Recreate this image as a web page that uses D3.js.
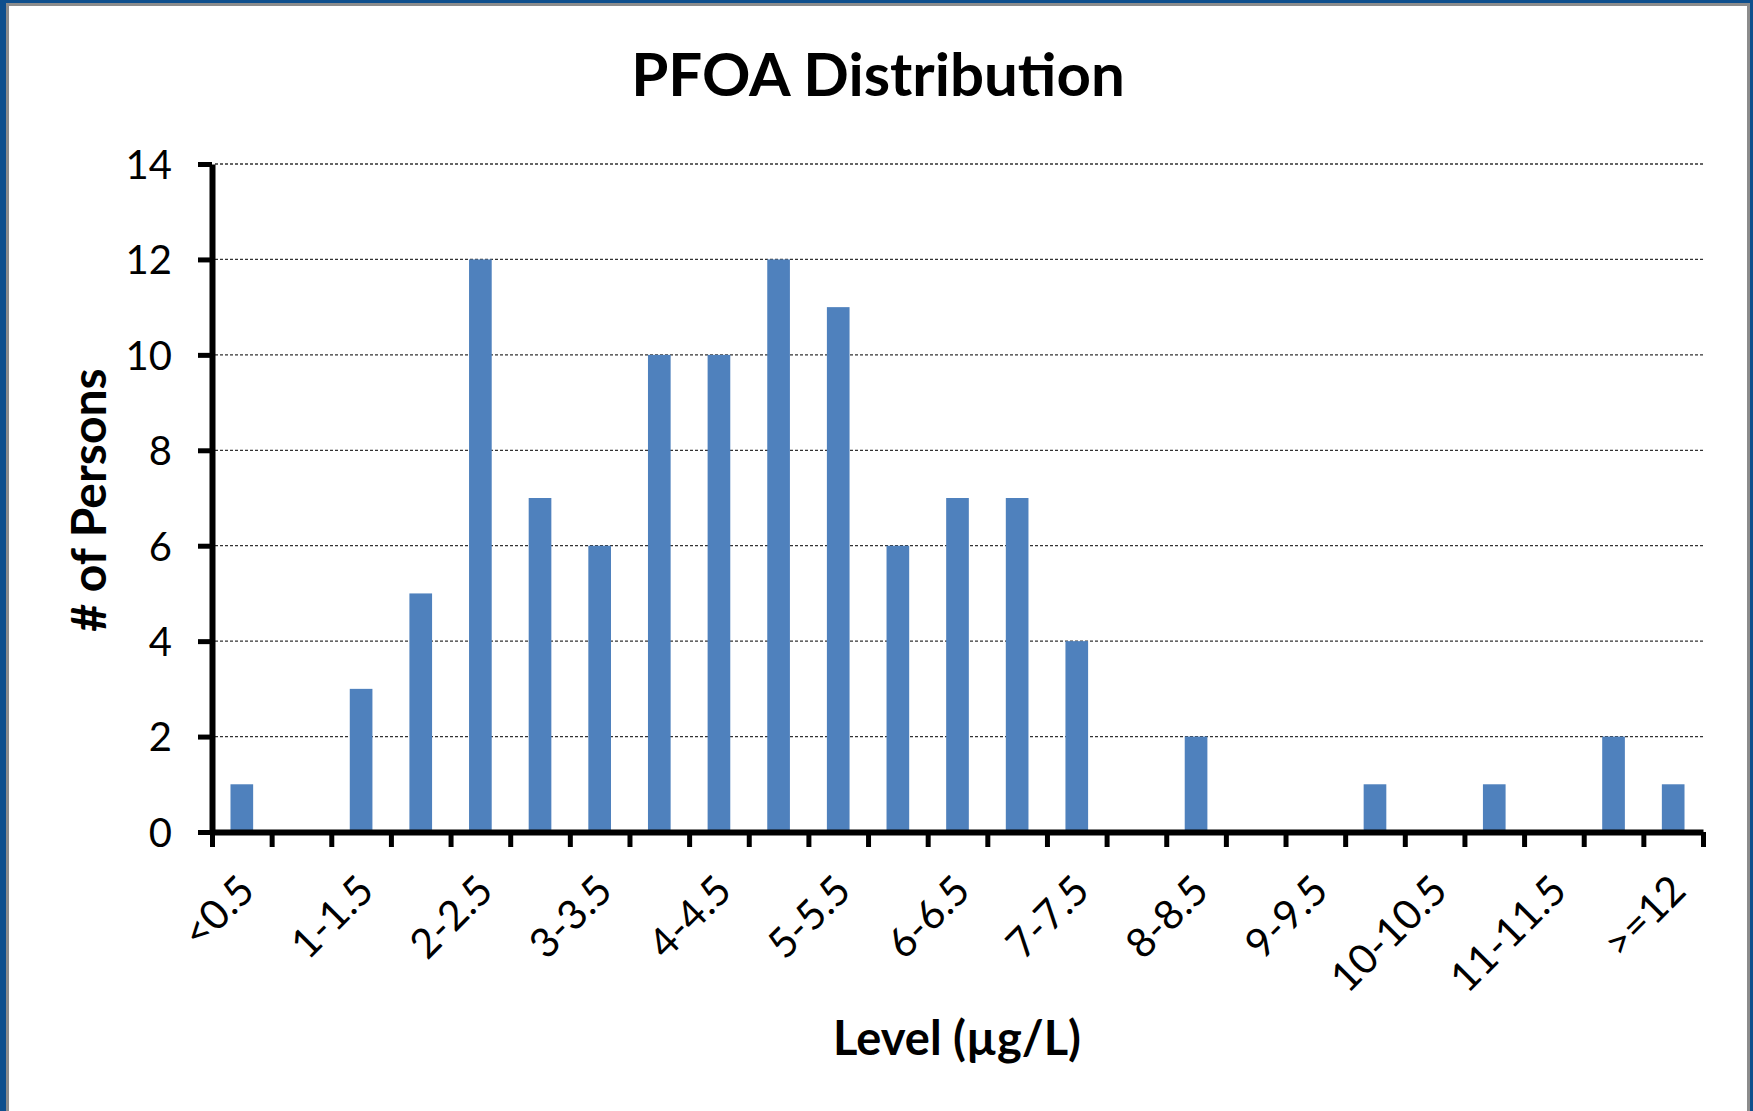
<!DOCTYPE html>
<html>
<head>
<meta charset="utf-8">
<script src="https://cdn.jsdelivr.net/npm/d3@7"></script>
<style>
  body { margin: 0; background: #fff; }
  text { font-family: Lato, "Open Sans", sans-serif; fill: #000; }
</style>
</head>
<body>
<div id="chart"></div>
<script>
const categories = [
  "<0.5", "0.5-1", "1-1.5", "1.5-2", "2-2.5", "2.5-3", "3-3.5", "3.5-4",
  "4-4.5", "4.5-5", "5-5.5", "5.5-6", "6-6.5", "6.5-7", "7-7.5", "7.5-8",
  "8-8.5", "8.5-9", "9-9.5", "9.5-10", "10-10.5", "10.5-11", "11-11.5",
  "11.5-12", ">=12"
];
const persons = [1, 0, 3, 5, 12, 7, 6, 10, 10, 12, 11, 6, 7, 7, 4, 0, 2, 0, 0, 1, 0, 1, 0, 2, 1];
const yTicks = [0, 2, 4, 6, 8, 10, 12, 14];

const width = 1753;
const height = 1111;
const plot = { left: 212, right: 1703, top: 164, bottom: 832 };

const svg = d3
  .select("#chart")
  .append("svg")
  .attr("width", width)
  .attr("height", height);

// window frame around the screenshot
svg.append("rect").attr("width", width).attr("height", height).attr("fill", "#0e4f8d");
svg.append("rect").attr("x", 6).attr("y", 3).attr("width", 1744).attr("height", height).attr("fill", "#8c8c8c");
svg.append("rect").attr("x", 9).attr("y", 6).attr("width", 1738).attr("height", height).attr("fill", "#fff");

const x = d3
  .scaleBand()
  .domain(categories)
  .range([plot.left, plot.right])
  .paddingInner(0.62)
  .paddingOuter(0.31);
const xEdges = d3
  .scaleLinear()
  .domain([0, categories.length])
  .range([plot.left, plot.right]);
const y = d3
  .scaleLinear()
  .domain([0, 14])
  .range([plot.bottom, plot.top]);

// dashed gridlines
svg
  .append("g")
  .selectAll("line")
  .data(yTicks.filter((d) => d > 0))
  .enter()
  .append("line")
  .attr("x1", plot.left + 3)
  .attr("x2", plot.right)
  .attr("y1", (d) => y(d))
  .attr("y2", (d) => y(d))
  .attr("stroke", "#333")
  .attr("stroke-width", 1.3)
  .attr("stroke-dasharray", "3,2");

svg
  .append("g")
  .selectAll("rect")
  .data(persons)
  .enter()
  .append("rect")
  .attr("x", (d, i) => x(categories[i]))
  .attr("y", (d) => y(d))
  .attr("width", x.bandwidth())
  .attr("height", (d) => y(0) - y(d))
  .attr("fill", "#4f81bd");

// y axis
const yAxis = svg
  .append("g")
  .attr("transform", `translate(${plot.left},0)`)
  .call(d3.axisLeft(y).tickValues(yTicks).tickSizeInner(14).tickSizeOuter(0).tickPadding(26));
yAxis.select(".domain").attr("stroke-width", 6);
yAxis.selectAll(".tick line").attr("stroke-width", 5);
yAxis.selectAll(".tick text").attr("font-size", 40).attr("dy", "0.36em");

// x axis: ticks on the bin edges
const xTicks = svg
  .append("g")
  .attr("transform", `translate(0,${plot.bottom})`)
  .call(d3.axisBottom(xEdges).tickValues(d3.range(categories.length + 1)).tickSizeInner(15).tickSizeOuter(0).tickFormat(""));
xTicks.select(".domain").attr("stroke-width", 6);
xTicks.selectAll(".tick line").attr("stroke-width", 5);

// x labels, every other bin
const xLabels = svg
  .append("g")
  .attr("transform", `translate(0,${plot.bottom})`)
  .call(d3.axisBottom(x).tickSize(0).tickFormat((d, i) => (i % 2 === 0 ? d : "")));
xLabels.select(".domain").remove();
xLabels
  .selectAll(".tick text")
  .attr("font-size", 41)
  .attr("x", 0)
  .attr("y", 0)
  .attr("dy", "0.72em")
  .attr("text-anchor", "end")
  .attr("transform", "translate(-6,40) rotate(-45)");

svg
  .append("text")
  .attr("x", 878)
  .attr("y", 96)
  .attr("text-anchor", "middle")
  .attr("font-size", 60)
  .attr("font-weight", "bold")
  .text("PFOA Distribution");

svg
  .append("text")
  .attr("transform", "translate(106,500) rotate(-90)")
  .attr("text-anchor", "middle")
  .attr("font-size", 48)
  .attr("font-weight", "bold")
  .text("# of Persons");

svg
  .append("text")
  .attr("x", 957)
  .attr("y", 1055)
  .attr("text-anchor", "middle")
  .attr("font-size", 47)
  .attr("font-weight", "bold")
  .text("Level (µg/L)");
</script>
</body>
</html>
